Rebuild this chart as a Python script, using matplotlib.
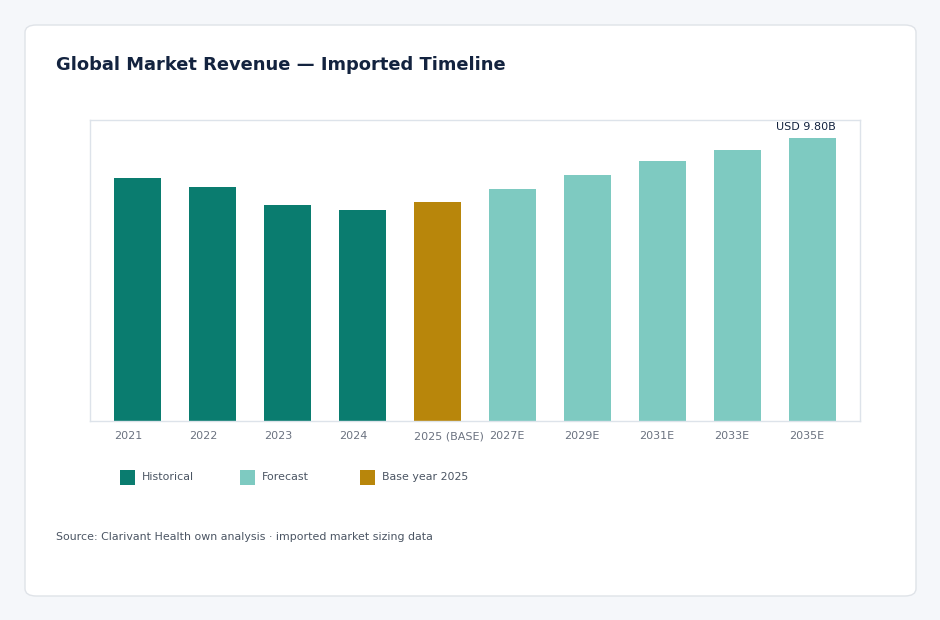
import matplotlib
matplotlib.use("Agg")
import matplotlib.pyplot as plt
from matplotlib.patches import FancyBboxPatch, Rectangle
from matplotlib.transforms import blended_transform_factory, offset_copy

categories = ["2021", "2022", "2023", "2024", "2025 (BASE)", "2027E", "2029E", "2031E", "2033E", "2035E"]
values = [8.41, 8.10, 7.48, 7.30, 7.58, 8.03, 8.52, 9.00, 9.38, 9.80]
kinds = ["hist", "hist", "hist", "hist", "base", "fc", "fc", "fc", "fc", "fc"]
legend_labels = ["Historical", "Forecast", "Base year 2025"]
peak_label = "USD 9.80B"

colors = {"hist": "#0a7c6f", "fc": "#7ecac1", "base": "#b8860b"}

W, H = 940, 620
fig = plt.figure(figsize=(W / 100, H / 100), dpi=100)
fig.patch.set_facecolor("#f5f7fa")

def fx(x):
    return x / W

def fy(y):
    return 1 - y / H

card = FancyBboxPatch((fx(25), fy(596)), fx(891), (596 - 25) / H,
                      boxstyle="round,pad=0,rounding_size=0.012",
                      transform=fig.transFigure, facecolor="white",
                      edgecolor="#dfe3e8", linewidth=1.0, zorder=-5)
fig.patches.append(card)

fig.text(fx(56), fy(65), "Global Market Revenue — Imported Timeline",
         fontsize=12.9, fontweight="bold", color="#13233f", ha="left", va="center")

ax = fig.add_axes([fx(90), fy(420.7), fx(770), 300.7 / H])
ax.set_zorder(2)
ax.set_facecolor("white")
x = list(range(len(categories)))
bw = 0.627
ax.bar(x, values, width=bw, color=[colors[k] for k in kinds], zorder=2)
ax.set_xlim(-0.633, len(categories) - 1 + 0.633)
ax.set_ylim(0, 10.42)
ax.set_yticks([])
ax.set_xticks([])
for s in ax.spines.values():
    s.set_color("#dde3ea")
    s.set_linewidth(1.0)

trans = offset_copy(blended_transform_factory(ax.transData, ax.transAxes),
                    fig=fig, x=0, y=-18.5, units="dots")
for xi, lab in zip(x, categories):
    ax.text(xi - bw / 2, 0, lab, transform=trans, ha="left", va="baseline",
            fontsize=8, color="#6b7280", clip_on=False)

ax.text(x[-1] + bw / 2, values[-1] + 0.2, peak_label, ha="right", va="bottom",
        fontsize=8, color="#13233f")

leg_x = [120, 240, 360]
leg_keys = ["hist", "fc", "base"]
for lx, k, lab in zip(leg_x, leg_keys, legend_labels):
    fig.patches.append(Rectangle((fx(lx), fy(485)), fx(15), 15 / H,
                                 transform=fig.transFigure, facecolor=colors[k],
                                 edgecolor="none", zorder=1))
    fig.text(fx(lx + 22), fy(477), lab, fontsize=7.9, color="#4b5563",
             ha="left", va="center")

fig.text(fx(56), fy(537), "Source: Clarivant Health own analysis · imported market sizing data",
         fontsize=7.9, color="#4b5563", ha="left", va="center")

fig.savefig("out.png", dpi=100, facecolor=fig.get_facecolor())
